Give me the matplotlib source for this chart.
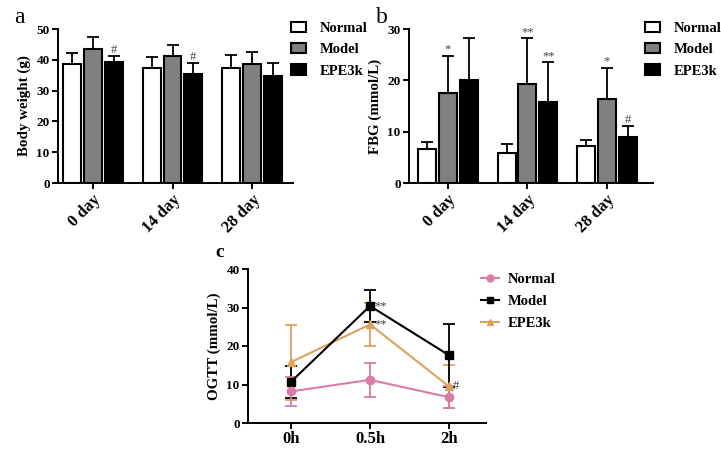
import numpy as np
import matplotlib
matplotlib.use('Agg')
import matplotlib.pyplot as plt
import matplotlib.patches as mpatches
import matplotlib.lines as mlines

plt.rcParams['font.family'] = ['Liberation Serif', 'DejaVu Serif']
plt.rcParams['font.weight'] = 'bold'
plt.rcParams['axes.labelweight'] = 'bold'

# Data
days = ['0 day', '14 day', '28 day']
groups = ['Normal', 'Model', 'EPE3k']

bw_mean = {'Normal': [38.6, 37.3, 37.3], 'Model': [43.5, 41.2, 38.5], 'EPE3k': [39.2, 35.4, 34.9]}
bw_err = {'Normal': [3.7, 3.7, 4.3], 'Model': [3.8, 3.7, 4.1], 'EPE3k': [2.1, 3.6, 3.9]}

fbg_mean = {'Normal': [6.7, 5.8, 7.2], 'Model': [17.6, 19.3, 16.4], 'EPE3k': [20.0, 15.7, 9.0]}
fbg_err = {'Normal': [1.2, 1.8, 1.2], 'Model': [7.2, 8.9, 6.1], 'EPE3k': [8.3, 7.9, 2.2]}

times = ['0h', '0.5h', '2h']
ogtt_mean = {'Normal': [8.2, 11.2, 6.7], 'Model': [10.7, 30.4, 17.6], 'EPE3k': [15.8, 25.6, 9.5]}
ogtt_err = {'Normal': [3.7, 4.4, 2.9], 'Model': [4.2, 4.2, 8.2], 'EPE3k': [9.7, 5.5, 5.6]}

# significance marks: (group, day index, text)
bw_marks = [('EPE3k', 0, '#'), ('EPE3k', 1, '#')]
fbg_marks = [('Model', 0, '*'), ('Model', 1, '**'), ('EPE3k', 1, '**'),
             ('Model', 2, '*'), ('EPE3k', 2, '#')]
ogtt_marks = [('Model', 1, '**'), ('EPE3k', 1, '**'), ('EPE3k', 2, '#')]

bar_colors = {'Normal': 'white', 'Model': '#808080', 'EPE3k': 'black'}
line_colors = {'Normal': '#d97ca8', 'Model': 'black', 'EPE3k': '#dba25e'}
line_markers = {'Normal': 'o', 'Model': 's', 'EPE3k': '^'}

W, H = 721, 449
fig = plt.figure(figsize=(W / 100, H / 100), dpi=100)


def px_axes(x0, x1, ytop, ybot):
    return fig.add_axes([x0 / W, 1 - ybot / H, (x1 - x0) / W, (ybot - ytop) / H])


def style_axes(ax, xsize):
    for s in ['top', 'right']:
        ax.spines[s].set_visible(False)
    for s in ['left', 'bottom']:
        ax.spines[s].set_linewidth(1.4)
    ax.tick_params(width=1.4, length=4, pad=2)
    for lab in ax.get_yticklabels():
        lab.set_fontsize(9.5)
        lab.set_fontweight('bold')
    for lab in ax.get_xticklabels():
        lab.set_fontsize(xsize)
        lab.set_fontweight('bold')


def bar_panel(ax, mean, err, marks, ylabel, ymax, step, xlim):
    x = np.arange(len(days))
    width = 0.225
    pitch = 0.262
    for i, g in enumerate(groups):
        xs = x + (i - 1) * pitch
        ax.bar(xs, mean[g], width, color=bar_colors[g], edgecolor='black', linewidth=1.5, zorder=2)
        ax.errorbar(xs, mean[g], yerr=[np.zeros(3), err[g]], fmt='none', ecolor='black',
                    elinewidth=1.3, capsize=4, capthick=1.3, zorder=1)
    for g, d, t in marks:
        i = groups.index(g)
        ax.text(d + (i - 1) * pitch, mean[g][d] + err[g][d], t, ha='center', va='bottom',
                fontsize=9, fontweight='normal', color='#444444')
    ax.set_xlim(*xlim)
    ax.set_ylim(0, ymax)
    ax.set_yticks(np.arange(0, ymax + 1, step))
    ax.set_xticks(x)
    ax.set_xticklabels(days, rotation=45, ha='right', rotation_mode='anchor')
    ax.set_ylabel(ylabel, fontsize=10.8, labelpad=4)
    style_axes(ax, 12)


def bar_legend(ax, x, y):
    handles = [mpatches.Rectangle((0, 0), 1, 1, facecolor=bar_colors[g], edgecolor='black', linewidth=1.5)
               for g in groups]
    fig.legend(handles, groups, loc='upper left', bbox_to_anchor=(x / W, 1 - y / H),
               frameon=False, fontsize=10.5, handlelength=1.0, handleheight=0.7,
               handletextpad=1.0, labelspacing=0.55, borderpad=0, borderaxespad=0)


# Panel a
ax_a = px_axes(58, 293, 29, 183)
bar_panel(ax_a, bw_mean, bw_err, bw_marks, 'Body weight (g)', 50, 10, (-0.4375, 2.5125))
bar_legend(ax_a, 291, 22)
fig.text(14 / W, 1 - 23 / H, 'a', fontsize=17, fontweight='normal')

# Panel b
ax_b = px_axes(409, 653, 29, 183)
bar_panel(ax_b, fbg_mean, fbg_err, fbg_marks, 'FBG (mmol/L)', 30, 10, (-0.49, 2.58))
bar_legend(ax_b, 645, 22)
fig.text(376 / W, 1 - 23 / H, 'b', fontsize=17, fontweight='normal')

# Panel c
ax_c = px_axes(248, 486, 269, 423)
xc = np.arange(len(times))
for g in ['EPE3k', 'Model', 'Normal']:
    ax_c.errorbar(xc, ogtt_mean[g], yerr=ogtt_err[g], color=line_colors[g], marker=line_markers[g],
                  markersize=6, linewidth=1.5, elinewidth=1.3, capsize=4, capthick=1.3, label=g)
for g, d, t in ogtt_marks:
    ax_c.text(d + 0.05, ogtt_mean[g][d], t, ha='left', va='center', fontsize=9,
              fontweight='normal', color='#444444')
ax_c.set_xlim(-0.544, 2.468)
ax_c.set_ylim(0, 40)
ax_c.set_yticks([0, 10, 20, 30, 40])
ax_c.set_xticks(xc)
ax_c.set_xticklabels(times)
ax_c.set_ylabel('OGTT (mmol/L)', fontsize=10.8, labelpad=4)
style_axes(ax_c, 12)
c_handles = [mlines.Line2D([], [], color=line_colors[g], marker=line_markers[g], markersize=5, linewidth=1.5)
             for g in groups]
fig.legend(c_handles, groups, loc='upper left', bbox_to_anchor=(481 / W, 1 - 273 / H),
           frameon=False, fontsize=10.5, handlelength=1.25, handletextpad=0.55,
           labelspacing=0.6, borderpad=0, borderaxespad=0)
fig.text(215 / W, 1 - 257 / H, 'c', fontsize=14, fontweight='bold')

fig.savefig('out.png', dpi=100)
